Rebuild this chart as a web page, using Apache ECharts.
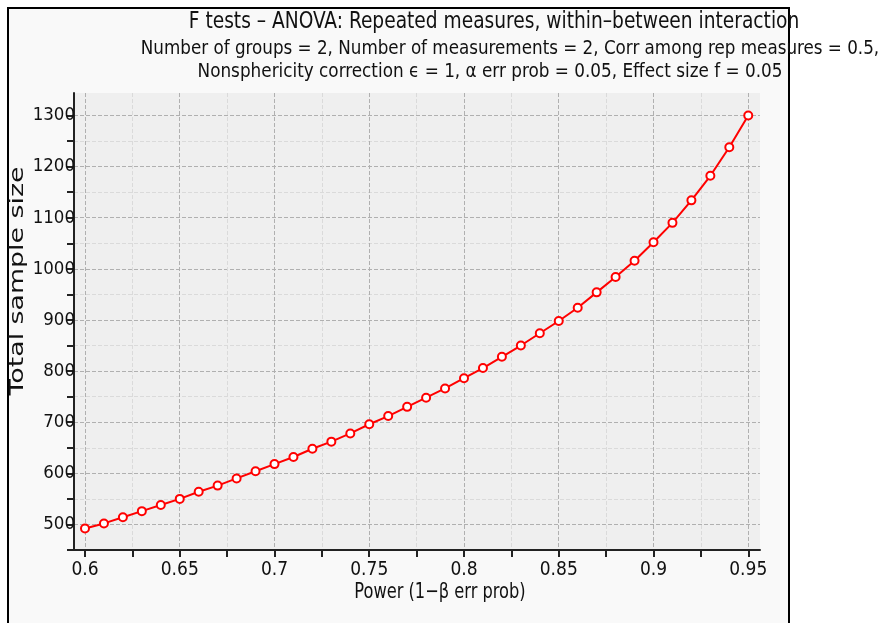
<!DOCTYPE html>
<html><head><meta charset="utf-8">
<script src="https://cdn.jsdelivr.net/npm/echarts@6/dist/echarts.min.js"></script>
<style>html,body{margin:0;padding:0;background:#fff;}#chart{width:883px;height:623px;}</style>
</head><body><div id="chart"></div>
<script>
const power = [0.60,0.61,0.62,0.63,0.64,0.65,0.66,0.67,0.68,0.69,0.70,0.71,0.72,0.73,0.74,0.75,0.76,0.77,0.78,0.79,0.80,0.81,0.82,0.83,0.84,0.85,0.86,0.87,0.88,0.89,0.90,0.91,0.92,0.93,0.94,0.95];
const sampleSize = [492,502,514,526,538,550,564,576,590,604,618,632,648,662,678,696,712,730,748,766,786,806,828,850,874,898,924,954,984,1016,1052,1090,1134,1182,1238,1300];
const xTickValues = [0.6,0.625,0.65,0.675,0.7,0.725,0.75,0.775,0.8,0.825,0.85,0.875,0.9,0.925,0.95];
const xLabelValues = [0.6,0.65,0.7,0.75,0.8,0.85,0.9,0.95];
const yTickValues = [450,500,550,600,650,700,750,800,850,900,950,1000,1050,1100,1150,1200,1250,1300];
const yLabelValues = [500,600,700,800,900,1000,1100,1200,1300];
const titleLines = [
  'F tests – ANOVA: Repeated measures, within–between interaction',
  'Number of groups = 2, Number of measurements = 2, Corr among rep measures = 0.5,',
  'Nonsphericity correction ϵ = 1, α err prob = 0.05, Effect size f = 0.05'
];
const xAxisName = 'Power (1−β err prob)';
const yAxisName = 'Total sample size';

const FONT = '"DejaVu Sans Condensed","Liberation Sans Narrow",sans-serif';
const chart = echarts.init(document.getElementById('chart'));
const option = {
  animation: false,
  backgroundColor: '#ffffff',
  graphic: [
    {type:'rect', z:-10, shape:{x:8,y:8,width:781,height:640}, style:{fill:'#f9f9f9', stroke:'#000', lineWidth:2}},
    {type:'text', x:494, y:22, scaleX:0.9, style:{text:titleLines[0], fontFamily:FONT, fontSize:23, fill:'#111', align:'center', verticalAlign:'middle'}},
    {type:'text', x:510, y:49, scaleX:0.955, style:{text:titleLines[1], fontFamily:FONT, fontSize:19.5, fill:'#111', align:'center', verticalAlign:'middle'}},
    {type:'text', x:490, y:72, scaleX:0.96, style:{text:titleLines[2], fontFamily:FONT, fontSize:19.5, fill:'#111', align:'center', verticalAlign:'middle'}},
    {type:'text', x:440, y:593, scaleX:0.86, style:{text:xAxisName, fontFamily:FONT, fontSize:21, fill:'#111', align:'center', verticalAlign:'middle'}},
    {type:'text', x:18, y:281, rotation:Math.PI/2, scaleX:1.41, style:{text:yAxisName, fontFamily:'"DejaVu Sans",sans-serif', fontSize:19, fill:'#111', align:'center', verticalAlign:'middle'}}
  ],
  grid: {left:74, right:123, top:93, bottom:73, show:true, backgroundColor:'#efefef', borderWidth:0},
  xAxis: {
    type:'value', min:0.5942, max:0.9562,
    axisLine:{show:true, lineStyle:{color:'#222', width:2}},
    axisTick:{show:true, customValues:xTickValues, length:7, lineStyle:{color:'#222', width:2}},
    axisLabel:{customValues:xLabelValues, fontFamily:FONT, fontSize:19, color:'#111', margin:11, formatter:v=>String(+v.toFixed(3))},
    splitLine:{show:true, lineStyle:{color:['#b0b0b0','#dadada'], type:'dashed', width:1}}
  },
  yAxis: {
    type:'value', min:450, max:1344,
    axisLine:{show:true, onZero:false, lineStyle:{color:'#222', width:2}},
    axisTick:{show:true, customValues:yTickValues, length:7, lineStyle:{color:'#222', width:2}},
    axisLabel:{customValues:yLabelValues, fontFamily:FONT, fontSize:18.5, color:'#111', margin:-1, verticalAlign:'middle', padding:[0,0,6,0], formatter:v=>String(v)},
    splitLine:{show:true, lineStyle:{color:['#dadada','#b0b0b0'], type:'dashed', width:1}}
  },
  series: [{
    type:'line',
    data: power.map((p,i)=>[p, sampleSize[i]]),
    symbol:'emptyCircle', symbolSize:8,
    itemStyle:{color:'#ff0000', borderWidth:2},
    lineStyle:{color:'#ff0000', width:2}
  }]
};
chart.setOption(option);
</script></body></html>
